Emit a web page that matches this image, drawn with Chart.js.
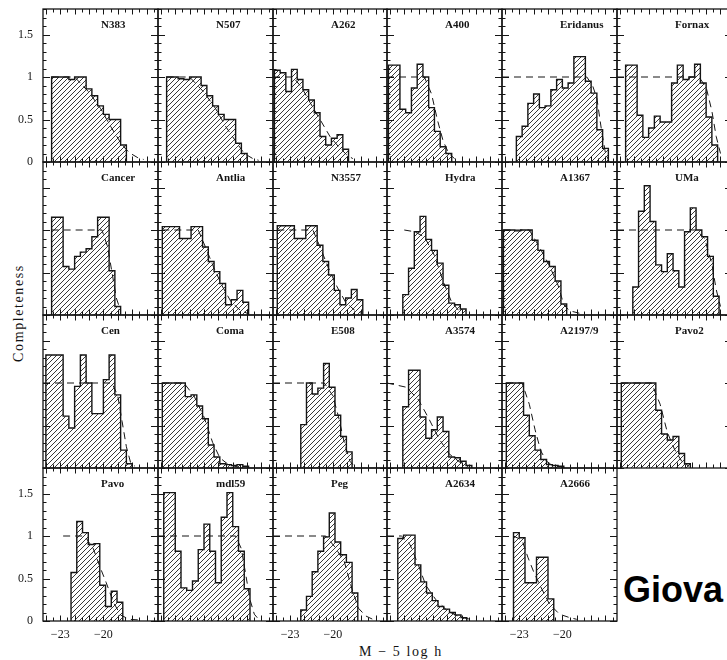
<!DOCTYPE html>
<html><head><meta charset="utf-8">
<script src="https://cdn.jsdelivr.net/npm/chart.js@4.4.1/dist/chart.umd.min.js"></script>
<style>
html,body{margin:0;padding:0;background:#fff;}
body{width:727px;height:660px;position:relative;overflow:hidden;}
canvas{position:absolute;}
.t{position:absolute;font-family:"Liberation Serif",serif;color:#111;white-space:nowrap;}
</style></head><body>
<div class="t" id="ytitle" style="left:19px;top:313px;font-size:14px;letter-spacing:1.6px;transform:translate(-50%,-50%) rotate(-90deg);">Completeness</div>
<div class="t" id="xtitle" style="left:401px;top:652px;font-size:14px;letter-spacing:1.6px;transform:translate(-50%,-50%);">M &minus; 5 log h</div>
<div id="giova" style="position:absolute;left:623px;top:572px;font:bold 36px 'Liberation Sans',Arial,sans-serif;line-height:35px;color:#000;white-space:nowrap;">Giova</div>
<script>
// ---- axis ranges and tick labels ----
const xMin = -24.2, xMax = -16.2, yMax = 1.8, binWidth = 0.4;
const yTickLabels = [0, 0.5, 1, 1.5];
const xTickLabels = [-23, -20];

// ---- panel names (row-major) and histogram start magnitudes ----
const panelNames = ['N383','N507','A262','A400','Eridanus','Fornax',
  'Cancer','Antlia','N3557','Hydra','A1367','UMa',
  'Cen','Coma','E508','A3574','A2197/9','Pavo2',
  'Pavo','mdl59','Peg','A2634','A2666'];
const histStart = [-23.6,-23.6,-24.1,-24.1,-23.2,-23.6,
  -23.6,-23.9,-23.9,-23.1,-24.1,-23.1,
  -24.0,-23.9,-22.25,-23.1,-23.9,-23.9,
  -22.25,-23.8,-22.25,-23.45,-23.4];

// ---- histogram heights (completeness per bin) ----
const hN383 = [1.0,1.0,1.0,0.97,1.0,1.0,0.86,0.78,0.66,0.56,0.5,0.5,0.2];
const hN507 = [1.0,1.0,0.98,0.97,1.0,1.0,0.9,0.78,0.66,0.56,0.5,0.5,0.22,0.1];
const hA262 = [1.08,1.05,0.83,1.09,0.97,0.85,0.73,0.58,0.3,0.2,0.28,0.32,0.15];
const hA400 = [1.14,1.14,0.62,0.58,0.87,1.15,1.0,0.64,0.36,0.18,0.1];
const hEridanus = [0.3,0.42,0.69,0.8,0.64,0.66,0.85,0.97,0.87,0.93,1.24,1.24,0.95,0.81,0.38,0.16];
const hFornax = [1.14,1.14,0.55,0.29,0.4,0.54,0.47,0.47,0.93,1.14,0.97,1.0,1.15,0.93,0.53,0.2];
const hCancer = [1.15,1.15,0.57,0.54,0.69,0.74,0.78,0.92,1.15,1.15,0.52,0.1];
const hAntlia = [1.04,1.04,1.04,0.9,0.9,1.04,1.04,0.8,0.63,0.51,0.37,0.12,0.18,0.29,0.15];
const hN3557 = [1.05,1.05,1.05,0.9,0.9,1.05,1.05,0.82,0.63,0.47,0.29,0.12,0.2,0.3,0.18];
const hHydra = [0.24,0.55,0.98,1.16,0.89,0.76,0.61,0.35,0.14,0.12,0.07];
const hA1367 = [1.0,1.0,0.99,1.0,1.0,0.88,0.76,0.63,0.57,0.4,0.13];
const hUMa = [0.33,1.22,1.52,1.1,0.59,0.51,0.72,0.52,0.33,0.98,1.26,1.0,0.92,0.69,0.22];
const hCen = [1.33,1.33,1.33,0.61,0.47,0.96,1.33,1.0,0.64,0.64,1.04,1.33,0.86,0.21,0.05];
const hComa = [1.0,1.0,1.0,1.0,0.84,0.86,0.73,0.58,0.27,0.13,0.05,0.04,0.03,0.04,0.02];
const hE508 = [0.51,1.0,0.87,0.94,1.23,0.95,0.62,0.37,0.19];
const hA3574 = [0.72,1.15,1.15,0.6,0.35,0.45,0.6,0.43,0.13,0.12,0.08,0.03];
const hA2197 = [1.0,1.0,1.0,0.62,0.38,0.21,0.1,0.04,0.03,0.02];
const hPavo2 = [1.0,1.0,1.0,1.0,1.0,1.0,0.68,0.4,0.33,0.37,0.17,0.05];
const hPavo = [0.57,1.17,1.04,0.9,0.91,0.42,0.17,0.35,0.22];
const hMdl59 = [1.51,1.51,0.82,0.39,0.36,0.47,0.84,1.14,0.82,0.45,1.22,1.51,1.11,0.82,0.38];
const hPeg = [0.13,0.29,0.58,0.82,0.99,1.27,0.93,0.78,0.69,0.33];
const hA2634 = [0.97,1.01,1.01,0.66,0.46,0.33,0.24,0.17,0.14,0.1,0.07,0.04];
const hA2666 = [1.04,0.98,0.45,0.45,0.75,0.75,0.26];

// ---- dashed model curves [magnitude, completeness] ----
const dN383 = [[-23.6,1],[-22.0,1],[-21.0,0.82],[-20.2,0.63],[-19.5,0.42],[-18.7,0.2],[-18.2,0.11],[-17.6,0.05],[-17.2,0.03]];
const dN507 = [[-23.6,1],[-22.0,1],[-21.0,0.82],[-20.2,0.63],[-19.5,0.42],[-18.7,0.22],[-18.2,0.1],[-17.6,0.04],[-17.2,0.02]];
const dA262 = [[-24.2,1],[-22.8,1],[-22.2,0.88],[-21.6,0.7],[-20.9,0.5],[-20.2,0.3],[-19.6,0.18],[-19.0,0.08],[-18.6,0.04]];
const dA400 = [[-24.2,1],[-21.6,1],[-21.1,0.8],[-20.7,0.5],[-20.3,0.25],[-19.9,0.1],[-19.5,0.04]];
const dEridanus = [[-24.2,1],[-18.3,1],[-17.9,0.9],[-17.6,0.75],[-17.3,0.4],[-17.0,0.1],[-16.8,0.03]];
const dFornax = [[-24.2,1],[-18.5,1],[-18.0,0.88],[-17.6,0.6],[-17.3,0.3],[-17.0,0.1]];
const dCancer = [[-23.6,1],[-20.1,1],[-19.7,0.8],[-19.4,0.5],[-19.1,0.2],[-18.8,0.05]];
const dAntlia = [[-23.9,1],[-21.4,1],[-20.9,0.8],[-20.3,0.55],[-19.7,0.33],[-19.1,0.15],[-18.5,0.06],[-18.0,0.02]];
const dN3557 = [[-23.9,1],[-21.4,1],[-20.9,0.8],[-20.3,0.55],[-19.7,0.33],[-19.1,0.15],[-18.5,0.06],[-18.0,0.02]];
const dHydra = [[-23.0,1],[-22.3,0.98],[-21.6,0.92],[-20.9,0.7],[-20.3,0.4],[-19.7,0.15],[-19.2,0.05]];
const dA1367 = [[-24.1,1],[-22.3,1],[-21.6,0.8],[-20.9,0.58],[-20.3,0.35],[-19.9,0.12],[-19.5,0.05],[-18.8,0.02]];
const dUMa = [[-24.2,1],[-18.7,1],[-18.1,0.9],[-17.6,0.6],[-17.3,0.3],[-17.0,0.1]];
const dCen = [[-24.2,1],[-19.4,1],[-19.0,0.85],[-18.7,0.55],[-18.4,0.25],[-18.1,0.06],[-17.8,0.02]];
const dComa = [[-23.9,1],[-22.4,1],[-21.7,0.85],[-21.0,0.6],[-20.4,0.3],[-19.9,0.12],[-19.3,0.04],[-18.6,0.01]];
const dE508 = [[-24.2,1],[-20.6,1],[-20.0,0.85],[-19.6,0.6],[-19.2,0.3],[-18.8,0.08],[-18.5,0.02]];
const dA3574 = [[-24.2,1],[-22.85,0.95],[-22.0,0.8],[-21.35,0.6],[-20.6,0.35],[-19.9,0.17],[-19.15,0.07],[-18.6,0.03]];
const dA2197 = [[-23.9,1],[-22.8,1],[-22.3,0.75],[-21.9,0.45],[-21.5,0.2],[-21.1,0.08],[-20.6,0.02]];
const dPavo2 = [[-23.9,1],[-21.8,1],[-21.2,0.75],[-20.7,0.42],[-20.2,0.22],[-19.7,0.08],[-19.2,0.02]];
const dPavo = [[-22.8,1],[-21.3,1],[-20.7,0.85],[-20.2,0.62],[-19.8,0.45],[-19.3,0.22],[-18.8,0.07],[-18.2,0.02],[-17.3,0.01]];
const dMdl59 = [[-24.2,1],[-18.8,1],[-18.4,0.85],[-18.1,0.55],[-17.8,0.25],[-17.5,0.08],[-17.2,0.02]];
const dPeg = [[-24.2,1],[-20.5,1],[-19.9,0.88],[-19.2,0.7],[-18.7,0.4],[-18.2,0.15],[-17.7,0.06],[-17.2,0.02]];
const dA2634 = [[-24.2,1],[-23.2,1],[-22.6,0.9],[-22.0,0.65],[-21.5,0.42],[-20.8,0.25],[-20.0,0.12],[-19.2,0.05],[-18.4,0.02]];
const dA2666 = [[-23.4,1],[-22.8,0.95],[-22.4,0.75],[-22.0,0.58],[-21.5,0.4],[-20.9,0.2],[-20.2,0.08],[-19.5,0.04],[-19.0,0.02]];

const histList = [hN383,hN507,hA262,hA400,hEridanus,hFornax,hCancer,hAntlia,hN3557,hHydra,hA1367,hUMa,
  hCen,hComa,hE508,hA3574,hA2197,hPavo2,hPavo,hMdl59,hPeg,hA2634,hA2666];
const dashList = [dN383,dN507,dA262,dA400,dEridanus,dFornax,dCancer,dAntlia,dN3557,dHydra,dA1367,dUMa,
  dCen,dComa,dE508,dA3574,dA2197,dPavo2,dPavo,dMdl59,dPeg,dA2634,dA2666];

// ---- layout ----
const colEdges = [43,158,273,387,502,617,732];
const rowEdges = [9,162,315,468,621];
const INK = '#151515';

function makeHatch(){
  const s = 5, c = document.createElement('canvas');
  c.width = s; c.height = s;
  const g = c.getContext('2d');
  g.strokeStyle = '#222'; g.lineWidth = 0.9;
  g.beginPath();
  g.moveTo(-1, s+1); g.lineTo(s+1, -1);
  g.moveTo(-1, 1); g.lineTo(1, -1);
  g.moveTo(s-1, s+1); g.lineTo(s+1, s-1);
  g.stroke();
  return g.createPattern(c, 'repeat');
}

const framePlugin = {
  id: 'frame',
  afterDatasetsDraw(chart) {
    const o = chart.options.plugins.frame;
    const {ctx, chartArea: a} = chart;
    const xs = chart.scales.x, ys = chart.scales.y;
    ctx.save();
    ctx.strokeStyle = INK;
    ctx.lineWidth = 1.3;
    ctx.strokeRect(a.left, a.top, a.right - a.left, a.bottom - a.top);
    ctx.lineWidth = 1;
    ctx.beginPath();
    for (let k = 0; k <= 18; k++) {
      const py = Math.round(ys.getPixelForValue(k / 10)) + 0.5;
      const len = (k % 5 === 0) ? 7 : 3.5;
      ctx.moveTo(a.left, py); ctx.lineTo(a.left + len, py);
      ctx.moveTo(a.right, py); ctx.lineTo(a.right - len, py);
    }
    for (let k = 0; k <= 20; k++) {
      const m = -24 + k * 0.5;
      if (m >= xMax) break;
      const px = Math.round(xs.getPixelForValue(m)) + 0.5;
      const len = (k % 2 === 0) ? 5.5 : 3.5;
      ctx.moveTo(px, a.top); ctx.lineTo(px, a.top + len);
      ctx.moveTo(px, a.bottom); ctx.lineTo(px, a.bottom - len);
    }
    ctx.stroke();
    ctx.fillStyle = INK;
    ctx.font = 'bold 11px "Liberation Serif", serif';
    ctx.textBaseline = 'middle';
    ctx.textAlign = 'left';
    ctx.fillText(o.name, a.left + 58, a.top + 16);
    ctx.font = '12px "Liberation Serif", serif';
    if (o.showY) {
      ctx.textAlign = 'right';
      yTickLabels.forEach(v => ctx.fillText(String(v), a.left - 10, ys.getPixelForValue(v)));
    }
    if (o.showX) {
      ctx.textAlign = 'center';
      xTickLabels.forEach(v => ctx.fillText('\u2212' + String(Math.abs(v)), xs.getPixelForValue(v), a.bottom + 14));
    }
    ctx.restore();
  }
};

const hatch = makeHatch();

panelNames.forEach((name, i) => {
  const r = Math.floor(i / 6), c = i % 6;
  const L = colEdges[c], R = colEdges[c + 1], T = rowEdges[r], B = rowEdges[r + 1];
  const padL = c === 0 ? L : 10, padR = 10, padT = 8, padB = r === 3 ? 30 : 10;
  const cv = document.createElement('canvas');
  cv.width = (R - L) + padL + padR;
  cv.height = (B - T) + padT + padB;
  cv.style.left = (L - padL) + 'px';
  cv.style.top = (T - padT) + 'px';
  document.body.appendChild(cv);

  const h = histList[i], s = histStart[i];
  const pts = [{x: s, y: 0}];
  h.forEach((v, k) => pts.push({x: s + k * binWidth, y: v}));
  pts.push({x: s + h.length * binWidth, y: 0});
  const dash = dashList[i].map(p => ({x: p[0], y: p[1]}));

  new Chart(cv, {
    type: 'line',
    data: {datasets: [
      {data: dash, borderColor: INK, borderWidth: 1, borderDash: [7, 5], pointRadius: 0, fill: false, tension: 0},
      {data: pts, stepped: 'before', borderColor: INK, borderWidth: 1.4, backgroundColor: hatch, fill: 'origin', pointRadius: 0}
    ]},
    options: {
      responsive: false, animation: false, devicePixelRatio: 1,
      layout: {padding: {left: padL, right: padR, top: padT, bottom: padB}},
      scales: {
        x: {type: 'linear', min: xMin, max: xMax, display: false},
        y: {type: 'linear', min: 0, max: yMax, display: false}
      },
      plugins: {legend: {display: false}, tooltip: {enabled: false},
        frame: {name: name, showY: c === 0 && (r === 0 || r === 3), showX: r === 3 && (c % 2 === 0)}}
    },
    plugins: [framePlugin]
  });
});
</script>
</body></html>
